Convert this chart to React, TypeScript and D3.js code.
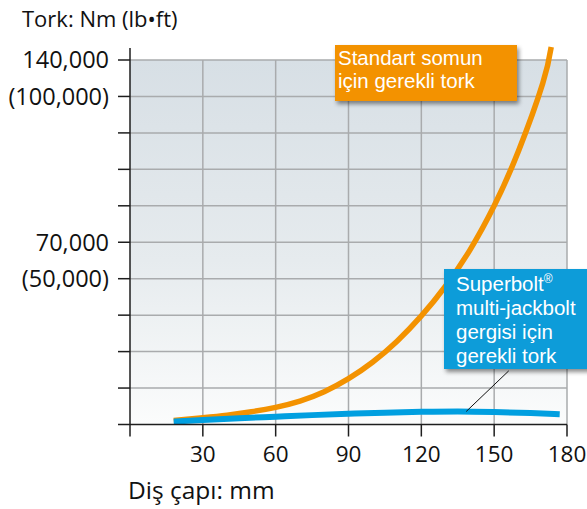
import { useEffect, useRef } from "react";
import * as d3 from "d3";

// diş çapı (mm) and required torque (Nm)
const nutDiameters = [18, 30, 40, 50, 60, 70, 80, 90, 100, 110, 120, 130, 140, 150, 160, 170, 173.5];
const nutTorque = [1500, 2600, 3600, 4900, 6600, 9000, 12600, 17600, 24000, 32000, 41700, 53200, 67000, 84000, 105000, 131000, 145000];

const boltDiameters = [18, 30, 45, 60, 75, 90, 105, 120, 135, 150, 165, 177];
const boltTorque = [1100, 1700, 2400, 3000, 3600, 4100, 4550, 4850, 5000, 4800, 4400, 3950];

const xTicks = [0, 30, 60, 90, 120, 150, 180];
const xTickLabels = ["", "30", "60", "90", "120", "150", "180"];
const yTicks = [0, 14000, 28000, 42000, 56000, 70000, 84000, 98000, 112000, 126000, 140000];
const yTickLabels = ["", "", "", "", "(50,000)", "70,000", "", "", "", "(100,000)", "140,000"];

const nutLabel = ["Standart somun", "için gerekli tork"];
const boltLabel = ["multi-jackbolt", "gergisi için", "gerekli tork"];

const App = () => {
  const ref = useRef(null);

  useEffect(() => {
    const svg = d3.select(ref.current);
    svg.selectAll("*").remove();

    const left = 130, right = 567, top = 60, bottom = 424.5;
    const x = d3.scaleLinear().domain([0, 180]).range([left, right]);
    const y = d3.scaleLinear().domain([0, 140000]).range([bottom, top]);

    const defs = svg.append("defs");
    const grad = defs.append("linearGradient").attr("id", "bg").attr("x1", 0).attr("y1", 0).attr("x2", 0).attr("y2", 1);
    grad.append("stop").attr("offset", "0%").attr("stop-color", "#d7dfe5");
    grad.append("stop").attr("offset", "55%").attr("stop-color", "#e6ebee");
    grad.append("stop").attr("offset", "100%").attr("stop-color", "#fbfcfc");
    const shadow = defs.append("filter").attr("id", "shadow").attr("x", "-20%").attr("y", "-20%").attr("width", "150%").attr("height", "150%");
    shadow.append("feDropShadow").attr("dx", 2).attr("dy", 3).attr("stdDeviation", 2)
      .attr("flood-color", "#000").attr("flood-opacity", 0.45);

    svg.append("rect").attr("x", left).attr("y", top).attr("width", right - left).attr("height", bottom - top)
      .attr("fill", "url(#bg)");

    // grid
    svg.append("g").selectAll("line").data(yTicks.slice(1)).join("line")
      .attr("x1", left).attr("x2", right).attr("y1", (d) => y(d)).attr("y2", (d) => y(d))
      .attr("stroke", "#a9abad").attr("stroke-width", 1.5);
    svg.append("g").selectAll("line").data(xTicks.slice(1)).join("line")
      .attr("x1", (d) => x(d)).attr("x2", (d) => x(d)).attr("y1", top).attr("y2", bottom)
      .attr("stroke", "#a9abad").attr("stroke-width", 1.5);

    const nutLine = d3.line<number>().curve(d3.curveNatural)
      .x((d, i) => x(nutDiameters[i])).y((d) => y(d));
    svg.append("path")
      .attr("d", nutLine(nutTorque))
      .attr("fill", "none").attr("stroke", "#f39200").attr("stroke-width", 5.5);

    const boltLine = d3.line<number>().curve(d3.curveMonotoneX)
      .x((d, i) => x(boltDiameters[i])).y((d) => y(d));
    svg.append("path")
      .attr("d", boltLine(boltTorque))
      .attr("fill", "none").attr("stroke", "#009fe0").attr("stroke-width", 6);

    // axes
    const ax = svg.append("g").attr("stroke", "#1e1e1e").attr("stroke-width", 1.5);
    ax.append("line").attr("x1", left).attr("x2", left).attr("y1", top - 12).attr("y2", bottom);
    ax.append("line").attr("x1", left - 12).attr("x2", right).attr("y1", bottom).attr("y2", bottom);
    ax.selectAll(".yt").data(yTicks.slice(1)).join("line").attr("class", "yt")
      .attr("x1", left - 12).attr("x2", left).attr("y1", (d) => y(d)).attr("y2", (d) => y(d));
    ax.selectAll(".xt").data(xTicks).join("line").attr("class", "xt")
      .attr("x1", (d) => x(d)).attr("x2", (d) => x(d)).attr("y1", bottom).attr("y2", bottom + 12);

    const font = "'Open Sans', sans-serif";
    svg.append("g").selectAll("text").data(yTicks).join("text")
      .attr("x", left - 21).attr("y", (d) => y(d)).attr("dy", "0.36em")
      .attr("text-anchor", "end").attr("font-family", font).attr("font-size", 23.5).attr("fill", "#111")
      .text((d, i) => yTickLabels[i]);
    svg.append("g").selectAll("text").data(xTicks).join("text")
      .attr("x", (d) => x(d)).attr("y", 462)
      .attr("text-anchor", "middle").attr("font-family", font).attr("font-size", 22.5).attr("fill", "#111")
      .text((d, i) => xTickLabels[i]);

    svg.append("text").attr("x", 22).attr("y", 27).attr("font-family", font).attr("font-size", 22).attr("fill", "#111")
      .text("Tork: Nm (lb•ft)");
    svg.append("text").attr("x", 128).attr("y", 499).attr("font-family", font).attr("font-size", 24.5).attr("fill", "#111")
      .text("Diş çapı: mm");

    // callouts
    const boxFont = "'Liberation Sans', Arial, sans-serif";
    svg.append("rect").attr("x", 335).attr("y", 45).attr("width", 182).attr("height", 56)
      .attr("fill", "#f39200").attr("filter", "url(#shadow)");
    svg.append("g").selectAll("text").data(nutLabel).join("text")
      .attr("x", 338).attr("y", (d, i) => 64.5 + i * 23)
      .attr("font-family", boxFont).attr("font-size", 20.5).attr("fill", "#fff").text((d) => d);

    svg.append("line")
      .attr("x1", x(138.5)).attr("y1", y(5000)).attr("x2", x(156)).attr("y2", y(20600))
      .attr("stroke", "#111").attr("stroke-width", 1);

    svg.append("rect").attr("x", 444).attr("y", 269).attr("width", 160).attr("height", 100)
      .attr("fill", "#0a9cd9").attr("filter", "url(#shadow)");
    const sb = svg.append("text").attr("x", 456).attr("y", 290.5)
      .attr("font-family", boxFont).attr("font-size", 20.5).attr("fill", "#fff");
    sb.append("tspan").text("Superbolt");
    sb.append("tspan").attr("font-size", 12).attr("dy", -8).text("®");
    svg.append("g").selectAll("text").data(boltLabel).join("text")
      .attr("x", 456).attr("y", (d, i) => 314.5 + i * 24)
      .attr("font-family", boxFont).attr("font-size", 20.5).attr("fill", "#fff").text((d) => d);
  }, []);

  return (
    <svg ref={ref} width={587} height={509}
      style={{ position: "absolute", left: 0, top: 0, background: "#fff" }} />
  );
};

export default App;
